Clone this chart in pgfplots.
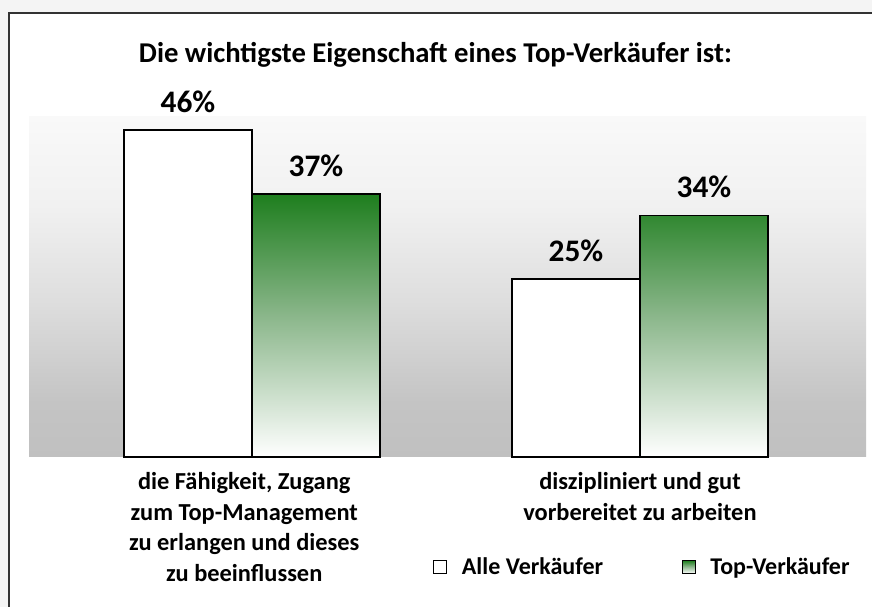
\documentclass[border=0pt]{standalone}
\usepackage{pgfplots}
\pgfplotsset{compat=1.18}
\usepackage{fontspec}
\setmainfont{Carlito}
\definecolor{outerbg}{HTML}{F4F4F4}
\definecolor{panelline}{HTML}{333333}
\definecolor{bgA}{HTML}{C0C0C0}
\definecolor{bgB}{HTML}{C4C4C4}
\definecolor{bgC}{HTML}{DEDEDE}
\definecolor{bgD}{HTML}{F1F1F1}
\definecolor{bgE}{HTML}{F9F9F9}
\definecolor{topgreen}{HTML}{1E7E1E}
\definecolor{midgreen}{HTML}{8AB68A}
\pgfdeclareverticalshading{bgshade}{100bp}{color(0bp)=(bgA); color(25bp)=(bgA); color(33bp)=(bgB); color(48bp)=(bgC); color(62bp)=(bgD); color(75bp)=(bgE); color(100bp)=(bgE)}
\pgfdeclareverticalshading{greenbar}{100bp}{color(0bp)=(white); color(25bp)=(white); color(52bp)=(midgreen); color(75bp)=(topgreen); color(100bp)=(topgreen)}
\begin{document}
\begin{tikzpicture}
\fill[outerbg] (0,0) rectangle (654pt,455.25pt);
\fill[white] (6.75pt,0) rectangle (654pt,445.5pt);
\draw[panelline, line width=1.5pt] (6.75pt,0) -- (6.75pt,445.5pt) -- (654pt,445.5pt);
\node[font=\fontsize{21.5}{25}\selectfont\bfseries] at (326.6pt,414pt) {Die wichtigste Eigenschaft eines Top-Verkäufer ist:};
\begin{axis}[
  at={(21.75pt,112.5pt)}, anchor=south west,
  scale only axis, width=627.75pt, height=255.75pt,
  xmin=-0.5747, xmax=1.5825, ymin=0, ymax=48,
  enlargelimits=false, clip=false,
  axis background/.style={shade, shading=bgshade},
  axis line style={draw=none},
  ytick=\empty,
  xtick={-0.02,1},
  xticklabels={{die Fähigkeit, Zugang\\zum Top-Management\\zu erlangen und dieses\\zu beeinflussen},{diszipliniert und gut\\vorbereitet zu arbeiten}},
  xticklabel style={align=center, font=\fontsize{18.3}{23}\selectfont\bfseries, yshift=-8pt},
  major tick length=0pt,
  ybar=0pt, bar width=0.33,
  /pgf/number format/assume math mode=true,
  nodes near coords={\pgfmathprintnumber{\pgfplotspointmeta}\%},
  every node near coord/.append style={font=\fontsize{23.5}{28}\selectfont\bfseries, text=black, anchor=south, yshift=9pt},
  legend columns=2,
  legend style={at={(axis description cs:0.4827,-0.3226)}, anchor=west, draw=none, fill=none, inner sep=0pt,
    font=\fontsize{18}{22}\selectfont\bfseries,
    /tikz/every odd column/.append style={column sep=9pt},
    /tikz/every even column/.append style={column sep=57pt}},
  legend image code/.code={\draw[#1, line width=0.9pt] (0pt,-4.8pt) rectangle (9.6pt,4.8pt);},
]
\addplot[draw=black, line width=1.4pt, fill=white] coordinates {(0,46) (1,25)};
\addplot[draw=black, line width=1.4pt, shade, shading=greenbar] coordinates {(0,37) (1,34)};
\legend{Alle Verkäufer, Top-Verkäufer}
\end{axis}
\pgfresetboundingbox
\path (0,0) rectangle (654pt,455.25pt);
\end{tikzpicture}
\end{document}
